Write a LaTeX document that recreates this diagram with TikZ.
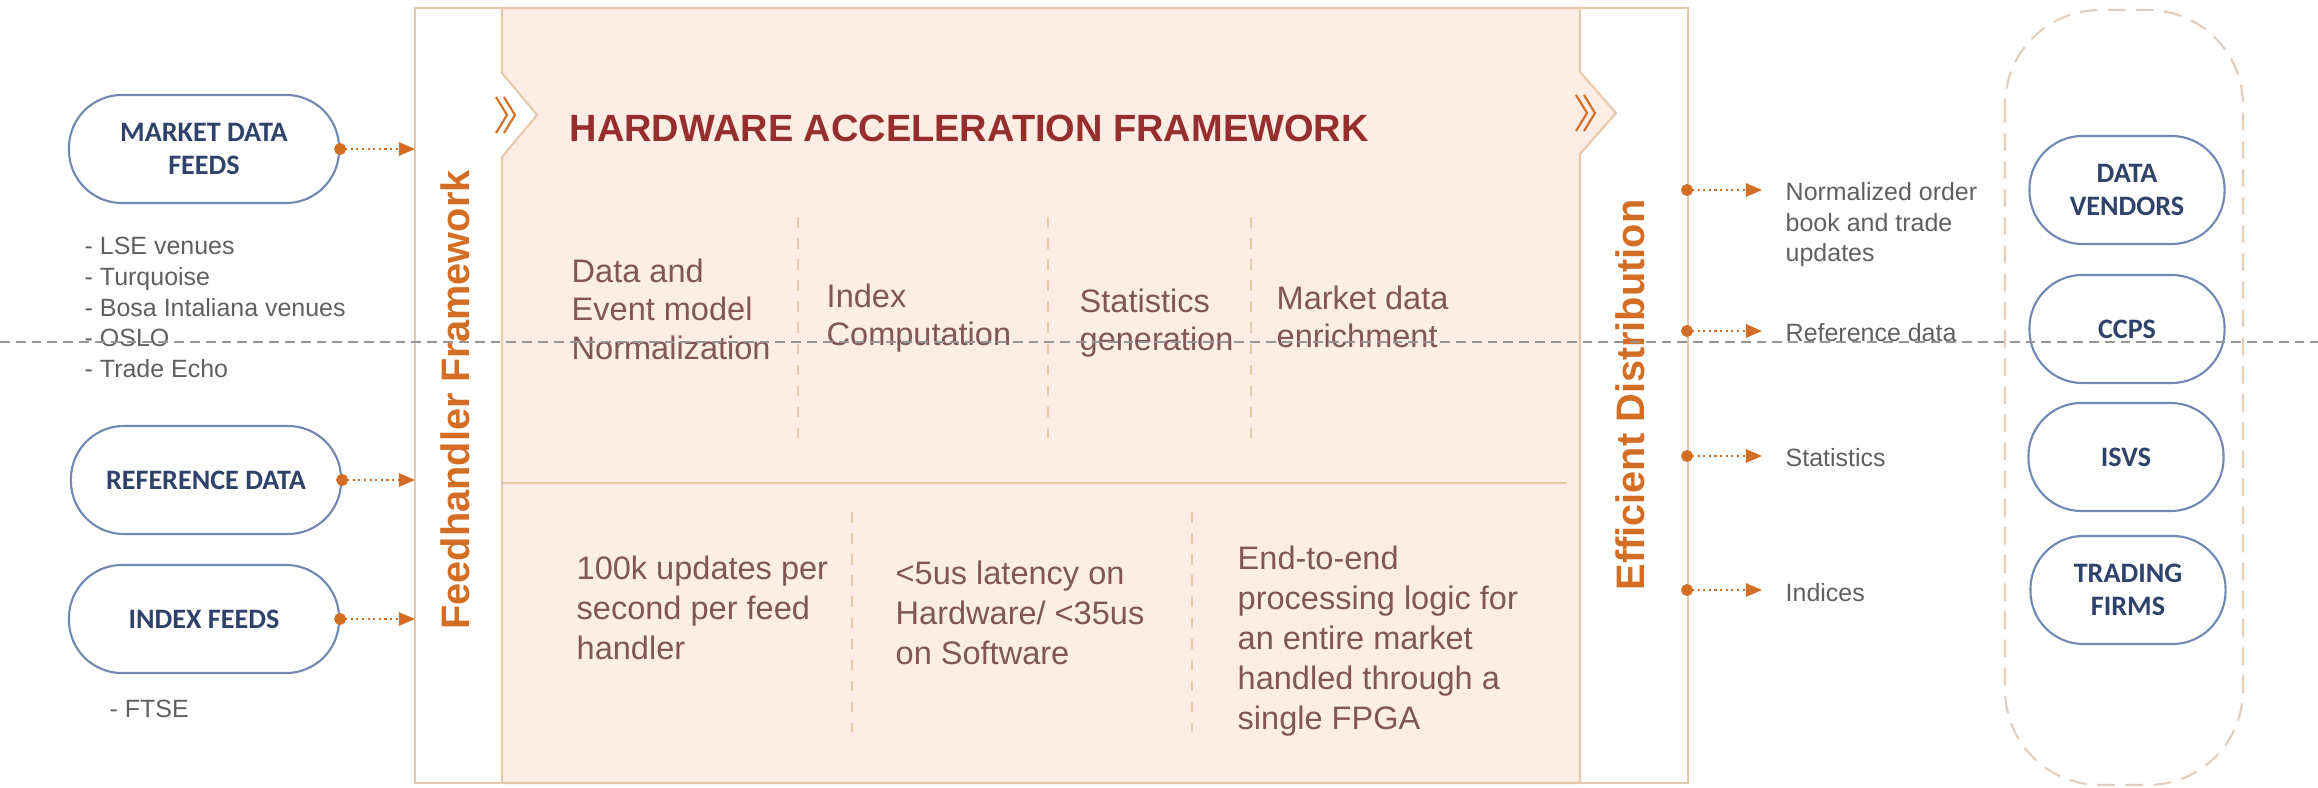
\documentclass[tikz,border=0pt]{standalone}
\usepackage{fontspec}
\setmainfont{Liberation Sans}
\newfontfamily\pillfont{Carlito}
\usepackage{tikz}
\usetikzlibrary{arrows.meta}

\definecolor{flameorange}{RGB}{212,110,36}
\definecolor{panelpink}{RGB}{252,238,229}
\definecolor{frametan}{RGB}{230,200,172}
\definecolor{titlered}{RGB}{150,46,46}
\definecolor{bodybrown}{RGB}{128,86,86}
\definecolor{sidegray}{RGB}{96,96,96}
\definecolor{pillblue}{RGB}{112,136,178}
\definecolor{pillnavy}{RGB}{46,66,106}
\definecolor{guidegray}{RGB}{150,150,150}
\definecolor{paletan}{RGB}{226,206,190}

\tikzset{
  pill/.style={draw=pillblue, line width=0.6pt, rounded corners=0.53cm,
    minimum height=1.08cm, inner sep=0pt, align=center, text=pillnavy,
    font=\pillfont\bfseries\fontsize{8}{9.4}\selectfont},
  feedpill/.style={pill, minimum width=2.70cm},
  clientpill/.style={pill, minimum width=1.95cm},
  flow/.style={flameorange, densely dotted, line width=0.6pt,
    {Circle[length=3.4pt]}-{Triangle[length=4.6pt,width=3.8pt]}},
  body/.style={text=bodybrown, anchor=north west, inner sep=0pt, align=left,
    font=\fontsize{9.25}{11}\selectfont},
  side/.style={text=sidegray, anchor=north west, inner sep=0pt, align=left,
    font=\fontsize{7.1}{8.6}\selectfont},
  sidebar/.style={text=flameorange, rotate=90, inner sep=0pt,
    font=\bfseries\fontsize{11.3}{13}\selectfont},
}

\begin{document}
\begin{tikzpicture}[x=0.01cm,y=-0.01cm]
    \useasboundingbox (0,0) rectangle (2318,788);

    % Frame and acceleration panel
    \draw[frametan,line width=0.6pt] (415,8) rectangle (1688,783);
    \filldraw[fill=panelpink,draw=frametan,line width=0.6pt]
        (502,8) -- (1580,8) -- (1580,72) -- (1616,113) -- (1580,154)
        -- (1580,783) -- (502,783) -- (502,157) -- (537,115) -- (502,73) -- cycle;
    \draw[frametan,line width=0.6pt] (502,483) -- (1567,483);
    \foreach \x in {798,1048,1251}
        \draw[frametan,dashed] (\x,217) -- (\x,438);
    \foreach \x in {852,1192}
        \draw[frametan,dashed] (\x,512) -- (\x,732);

    % Chevrons
    \foreach \dx in {0,8} {
        \draw[flameorange,line width=0.6pt] ({496+\dx},97) -- ({507+\dx},115) -- ({496+\dx},133);
        \draw[flameorange,line width=0.6pt] ({1576+\dx},95) -- ({1587+\dx},113) -- ({1576+\dx},131);
    }

    % Titles
    \node[anchor=west,inner sep=0pt,text=titlered,font=\bfseries\fontsize{10.8}{13}\selectfont]
        (hwtitle) at (569,128) {HARDWARE ACCELERATION FRAMEWORK};
    \node[sidebar] (feedbar) at (455,400) {Feedhandler Framework};
    \node[sidebar] (distbar) at (1630,395) {Efficient Distribution};

    % Panel texts
    \node[body] (normtext) at (571,258) {Data and\\Event model\\Normalization};
    \node[body] (indextext) at (826,283) {Index\\Computation};
    \node[body] (stattext) at (1079,288) {Statistics\\generation};
    \node[body] (enrichtext) at (1276,285) {Market data\\enrichment};
    \node[body,font=\fontsize{9.25}{11.4}\selectfont] (ratetext) at (576,555)
        {100k updates per\\second per feed\\handler};
    \node[body,font=\fontsize{9.25}{11.4}\selectfont] (latencytext) at (895,560)
        {<5us latency on\\Hardware/ <35us\\on Software};
    \node[body,font=\fontsize{9.25}{11.4}\selectfont] (fpgatext) at (1237,545)
        {End-to-end\\processing logic for\\an entire market\\handled through a\\single FPGA};

    % Sources
    \node[feedpill] (mdf) at (204,149) {MARKET DATA\\FEEDS};
    \node[feedpill] (refdata) at (206,480) {REFERENCE DATA};
    \node[feedpill] (idxfeeds) at (204,619) {INDEX FEEDS};
    \node[side,font=\fontsize{7.1}{8.8}\selectfont] (venues) at (84,236)
        {- LSE venues\\- Turquoise\\- Bosa Intaliana venues\\- OSLO\\- Trade Echo};
    \node[side] (ftse) at (109,699) {- FTSE};

    \coordinate (inA) at (415,149);
    \coordinate (inB) at (415,480);
    \coordinate (inC) at (415,619);
    \draw[flow,shorten <=-1.7pt] (mdf.east) -- (inA);
    \draw[flow,shorten <=-1.7pt] (refdata.east) -- (inB);
    \draw[flow,shorten <=-1.7pt] (idxfeeds.east) -- (inC);

    % Outputs
    \coordinate (outA) at (1687,190);
    \coordinate (outB) at (1687,331);
    \coordinate (outC) at (1687,456);
    \coordinate (outD) at (1687,590);
    \coordinate (tipA) at (1762,190);
    \coordinate (tipB) at (1762,331);
    \coordinate (tipC) at (1762,456);
    \coordinate (tipD) at (1762,590);
    \draw[flow,shorten <=-1.7pt] (outA) -- (tipA);
    \draw[flow,shorten <=-1.7pt] (outB) -- (tipB);
    \draw[flow,shorten <=-1.7pt] (outC) -- (tipC);
    \draw[flow,shorten <=-1.7pt] (outD) -- (tipD);
    \node[side] (booklbl) at (1785,182) {Normalized order\\book and trade\\updates};
    \node[side] (reflbl) at (1785,323) {Reference data};
    \node[side] (statlbl) at (1785,448) {Statistics};
    \node[side] (indexlbl) at (1785,583) {Indices};

    % Consumers
    \draw[paletan,dash pattern=on 5pt off 3pt,line width=0.6pt,rounded corners=0.95cm]
        (2005,10) rectangle (2243,785);
    \node[clientpill] (vendors) at (2127,190) {DATA\\VENDORS};
    \node[clientpill] (ccps) at (2127,329) {CCPS};
    \node[clientpill] (isvs) at (2126,457) {ISVS};
    \node[clientpill] (firms) at (2128,590) {TRADING\\FIRMS};

    % Guide line
    \draw[guidegray,dash pattern=on 2.8pt off 1.7pt,line width=0.5pt] (0,342) -- (2318,342);
\end{tikzpicture}
\end{document}
